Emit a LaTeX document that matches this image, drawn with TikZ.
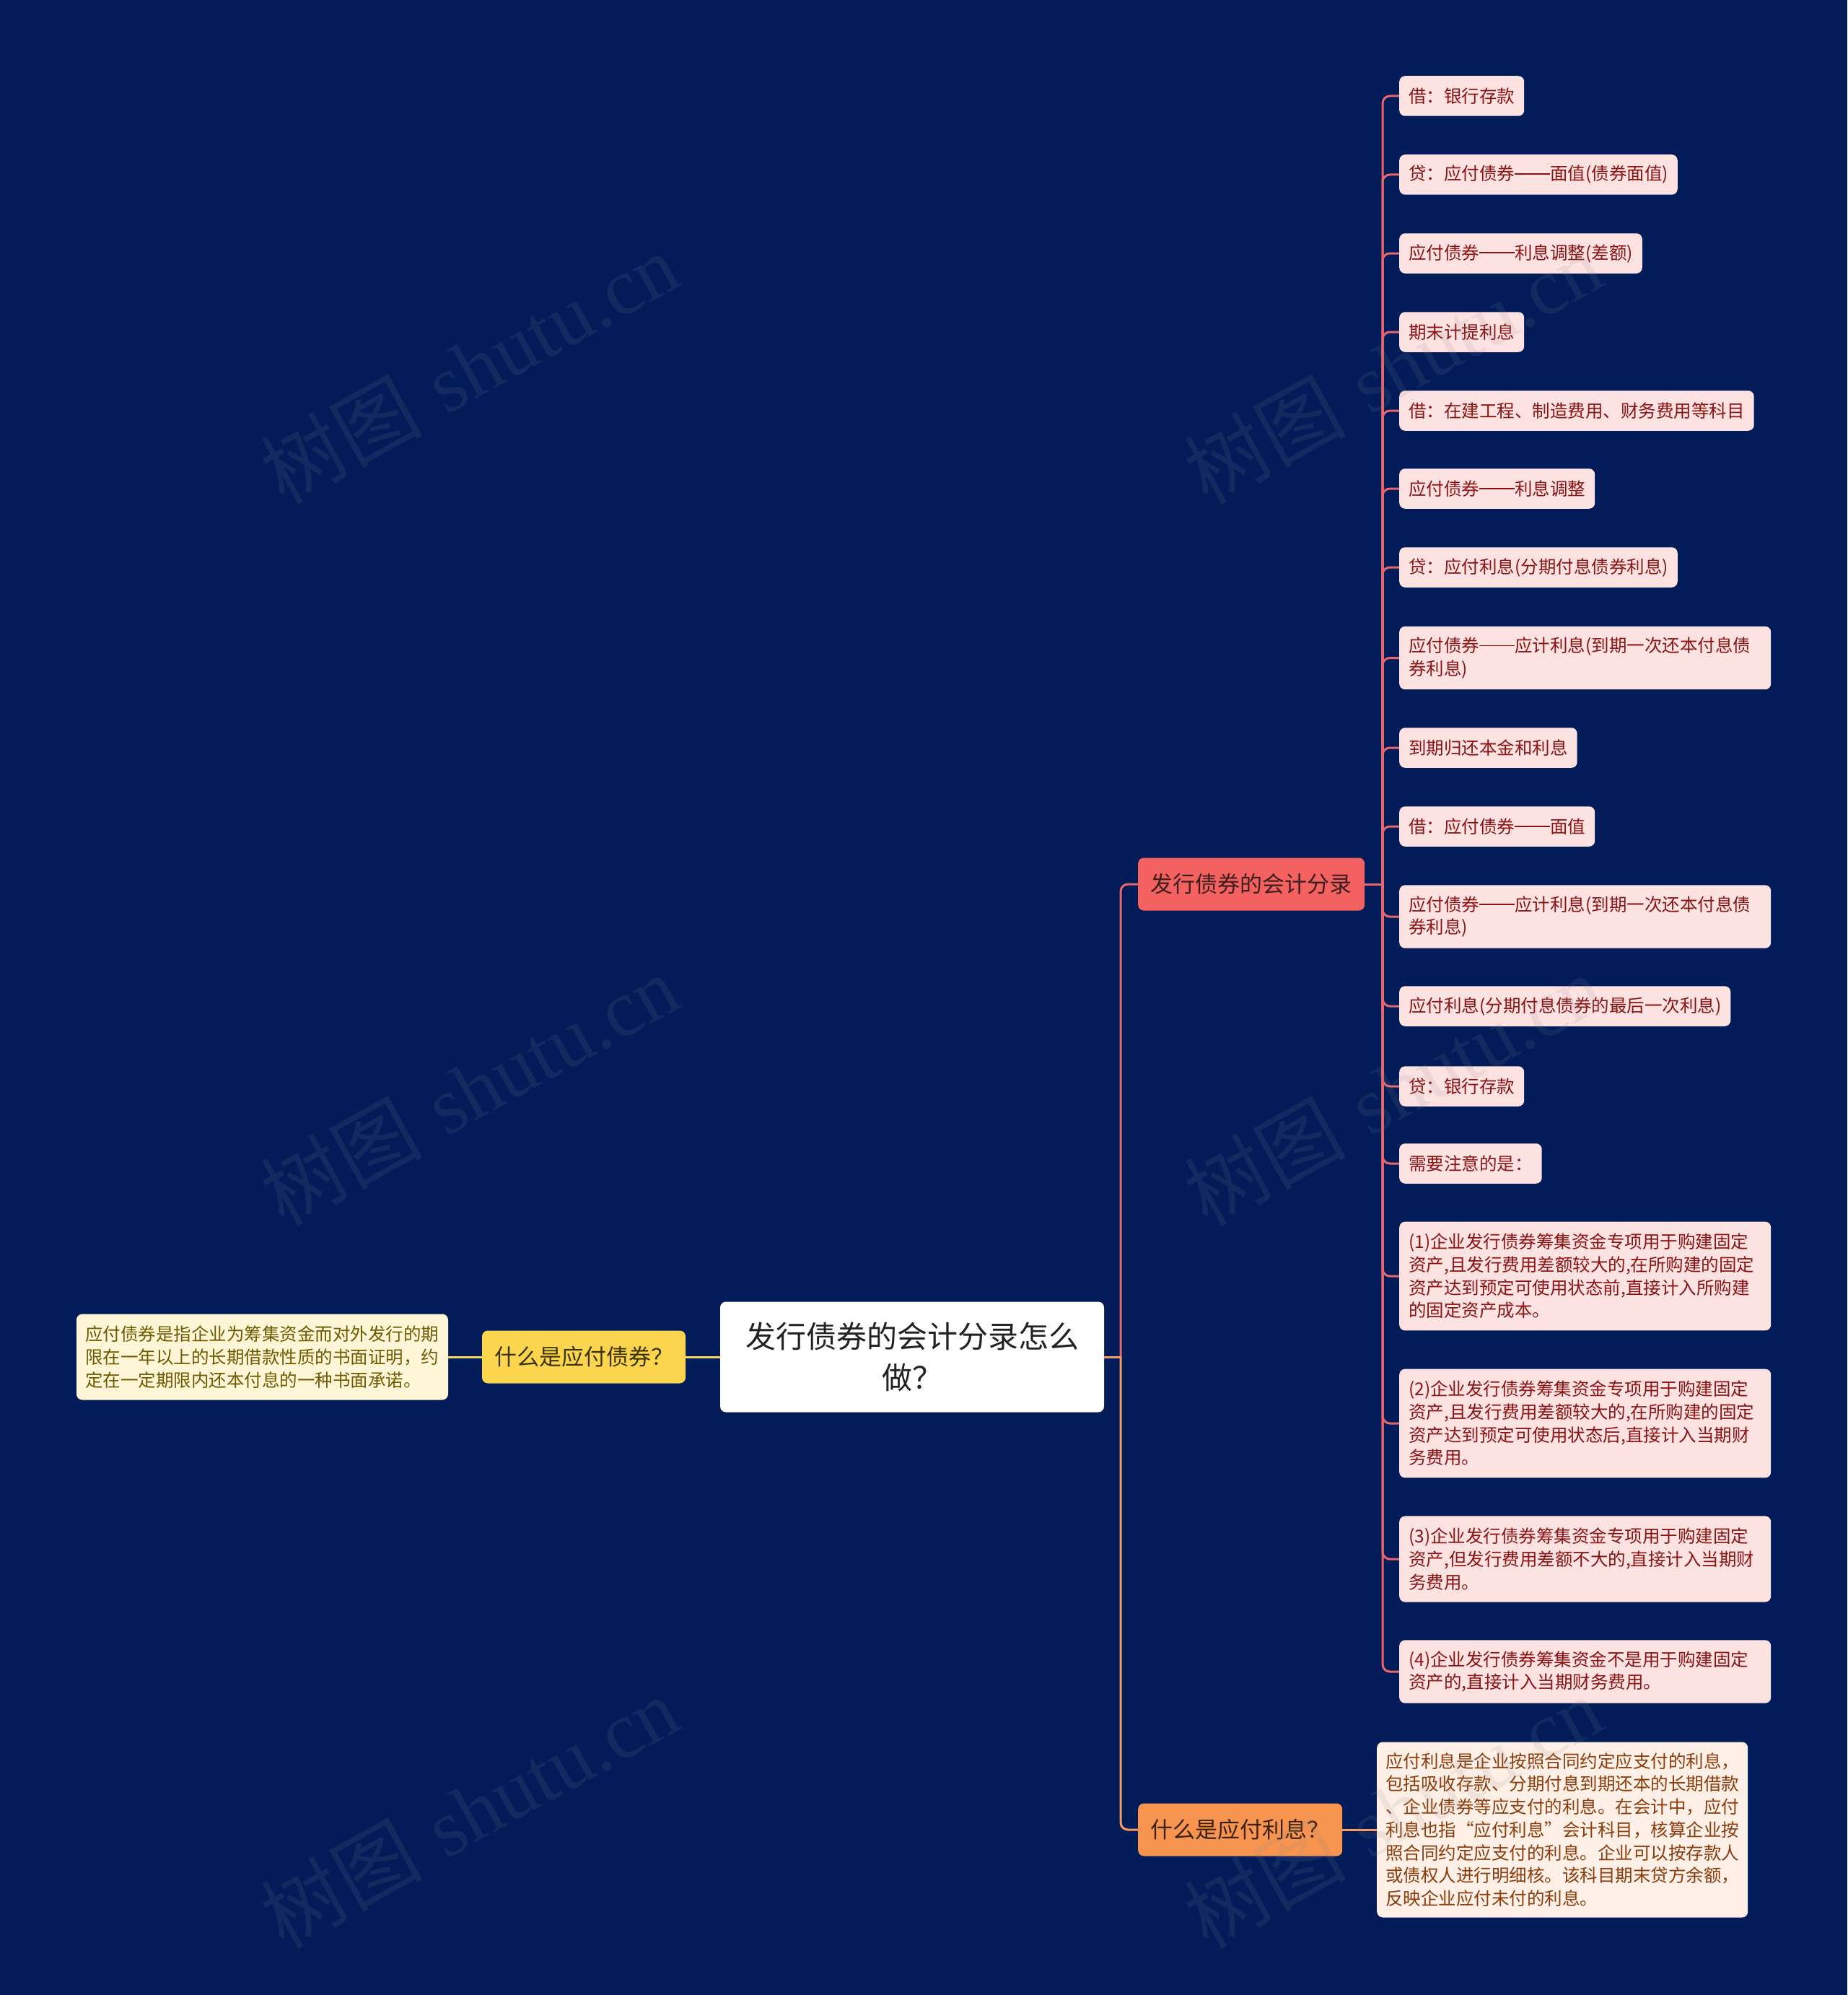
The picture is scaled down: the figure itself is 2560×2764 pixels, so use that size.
\documentclass[tikz,border=0pt]{standalone}
\usepackage{fontspec}
\newfontfamily\cjk{Noto Sans CJK SC}
\newfontfamily\wmlatin{Liberation Serif}
\newcommand\cjkdash{\rule[0.34em]{2em}{0.065em}}
\definecolor{bgcol}{HTML}{011C59}
\definecolor{leafFill}{HTML}{FDE2E2}
\definecolor{leafText}{HTML}{8A1414}
\definecolor{redLine}{HTML}{E8676A}
\definecolor{redFill}{HTML}{F36160}
\definecolor{redText}{HTML}{3E1E1E}
\definecolor{yelFill}{HTML}{FCD54E}
\definecolor{yelText}{HTML}{3A3200}
\definecolor{yelLine}{HTML}{F6D65C}
\definecolor{yelDescFill}{HTML}{FFF6D8}
\definecolor{yelDescText}{HTML}{6E5A00}
\definecolor{oraFill}{HTML}{F7944F}
\definecolor{oraText}{HTML}{3C220C}
\definecolor{oraLine}{HTML}{F49D5E}
\definecolor{oraDescFill}{HTML}{FEF0E6}
\definecolor{oraDescText}{HTML}{8A3C0C}
\definecolor{rootText}{HTML}{222222}
\definecolor{wmcol}{HTML}{8A8A96}
\begin{document}
\begin{tikzpicture}[x=1pt,y=-1pt,
  base/.style={rectangle, rounded corners=8pt, inner ysep=0pt},
  smallfont/.style={font=\cjk\fontsize{24.5}{31.7}\selectfont},
  leaf/.style={base, smallfont, fill=leafFill, text=leafText, anchor=west, inner xsep=13pt, minimum height=55.5pt},
  leafm/.style={leaf, text width=489pt, align=left},
  lvone/.style={base, font=\cjk\fontsize{31}{40}\selectfont, inner xsep=0pt, minimum height=73pt},
  rootnode/.style={base, fill=white, text=rootText, font=\cjk\fontsize{42}{57}\selectfont, align=center, inner xsep=0pt, minimum width=532pt, minimum height=153pt},
  descbox/.style={base, smallfont, inner xsep=12pt, align=left},
  conn/.style={line width=3pt},
  wm/.style={text=wmcol, text opacity=0.13, rotate=29, inner sep=0pt}
]
% background / bounding box
\fill[bgcol] (0,0) rectangle (2560,2764);
\useasboundingbox (0,0) rectangle (2560,2764);

% root and first level
\node[rootnode] (root) at (1264,1880) {发行债券的会计分录怎么\\做？};
\node[lvone, fill=yelFill, text=yelText, minimum width=282pt] (yq) at (809,1880) {什么是应付债券？};
\node[descbox, fill=yelDescFill, text=yelDescText, minimum width=515pt, minimum height=119pt, text width=491pt] (yd) at (363.5,1880)
  {应付债券是指企业为筹集资金而对外发行的期\\限在一年以上的长期借款性质的书面证明，约\\定在一定期限内还本付息的一种书面承诺。};
\node[lvone, fill=redFill, text=redText, anchor=west, minimum width=314pt] (acc) at (1577,1225) {发行债券的会计分录};
\node[lvone, fill=oraFill, text=oraText, anchor=west, minimum width=283pt] (oq) at (1577,2535) {什么是应付利息？};
\node[descbox, fill=oraDescFill, text=oraDescText, anchor=west, text width=490pt, minimum height=243pt] (od) at (1908,2535)
  {应付利息是企业按照合同约定应支付的利息，\\包括吸收存款、分期付息到期还本的长期借款\\、企业债券等应支付的利息。在会计中，应付\\利息也指“应付利息”会计科目，核算企业按\\照合同约定应支付的利息。企业可以按存款人\\或债权人进行明细核。该科目期末贷方余额，\\反映企业应付未付的利息。};

% leaves
\node[leaf] (c1) at (1939,133) {借：银行存款};
\node[leaf] (c2) at (1939,242) {贷：应付债券\cjkdash 面值(债券面值)};
\node[leaf] (c3) at (1939,351) {应付债券\cjkdash 利息调整(差额)};
\node[leaf] (c4) at (1939,460) {期末计提利息};
\node[leaf] (c5) at (1939,569) {借：在建工程、制造费用、财务费用等科目};
\node[leaf] (c6) at (1939,677) {应付债券\cjkdash 利息调整};
\node[leaf] (c7) at (1939,786) {贷：应付利息(分期付息债券利息)};
\node[leafm, minimum height=87.4pt] (c8) at (1939,911.5) {应付债券\cjkdash 应计利息(到期一次还本付息债\\券利息)};
\node[leaf] (c9) at (1939,1036) {到期归还本金和利息};
\node[leaf] (c10) at (1939,1145) {借：应付债券\cjkdash 面值};
\node[leafm, minimum height=87.4pt] (c11) at (1939,1270) {应付债券\cjkdash 应计利息(到期一次还本付息债\\券利息)};
\node[leaf] (c12) at (1939,1394) {应付利息(分期付息债券的最后一次利息)};
\node[leaf] (c13) at (1939,1505) {贷：银行存款};
\node[leaf] (c14) at (1939,1612) {需要注意的是：};
\node[leafm, minimum height=150.8pt] (c15) at (1939,1768) {(1)企业发行债券筹集资金专项用于购建固定\\资产,且发行费用差额较大的,在所购建的固定\\资产达到预定可使用状态前,直接计入所购建\\的固定资产成本。};
\node[leafm, minimum height=150.8pt] (c16) at (1939,1972) {(2)企业发行债券筹集资金专项用于购建固定\\资产,且发行费用差额较大的,在所购建的固定\\资产达到预定可使用状态后,直接计入当期财\\务费用。};
\node[leafm, minimum height=119.1pt] (c17) at (1939,2160) {(3)企业发行债券筹集资金专项用于购建固定\\资产,但发行费用差额不大的,直接计入当期财\\务费用。};
\node[leafm, minimum height=87.4pt] (c18) at (1939,2316) {(4)企业发行债券筹集资金不是用于购建固定\\资产的,直接计入当期财务费用。};

% junctions
\coordinate (jM) at (1553,1880);
\coordinate (jR) at (1916,1225);

% connectors
\draw[conn, yelLine] (root.west) -- (yq.east);
\draw[conn, yelLine] (yq.west) -- (yd.east);
\draw[conn, redLine] (root.east) -- (jM);
\draw[conn, redLine, rounded corners=10pt] (jM) |- (acc.west);
\draw[conn, oraLine] (root.east) -- (jM);
\draw[conn, oraLine, rounded corners=10pt] (jM) |- (oq.west);
\draw[conn, oraLine] (oq.east) -- (od.west);
\draw[conn, redLine] (acc.east) -- (jR);
\foreach \i in {1,...,18} {
  \draw[conn, redLine, rounded corners=10pt] (jR) |- (c\i.west);
}

% watermarks
\foreach \wx/\wy [count=\k] in {650/510, 650/1510, 650/2510, 1930/510, 1930/1510, 1930/2510} {
  \node[wm] (wm\k) at (\wx,\wy) {\fontsize{112}{120}\selectfont{\cjk 树图} {\wmlatin shutu.cn}};
}
\end{tikzpicture}
\end{document}
